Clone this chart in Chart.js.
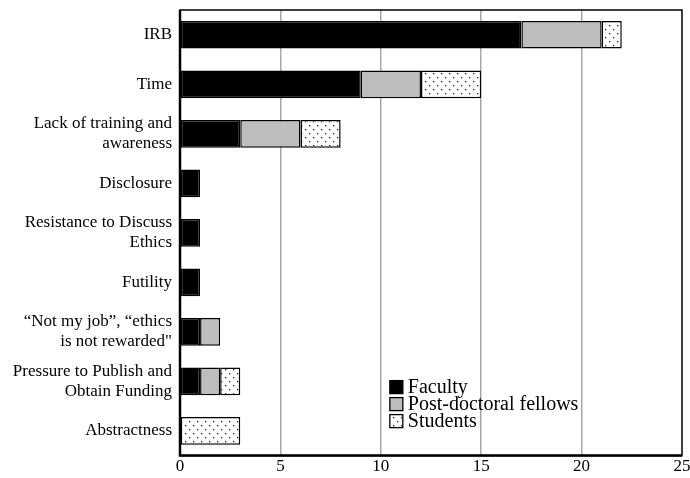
<!DOCTYPE html>
<html>
<head>
<meta charset="utf-8">
<script src="https://cdn.jsdelivr.net/npm/chart.js@4"></script>
<style>
  html, body { margin: 0; padding: 0; background: #fff; }
  #wrap { width: 690px; height: 478px; position: relative; }
</style>
</head>
<body>
<div id="wrap"><canvas id="c"></canvas></div>
<script>
// Categorias (rótulos multilinha) e valores por grupo
const categorias = [
  'IRB',
  'Time',
  ['Lack of training and', 'awareness'],
  'Disclosure',
  ['Resistance to Discuss', 'Ethics'],
  'Futility',
  ['\u201CNot my job\u201D, \u201Cethics', 'is not rewarded"'],
  ['Pressure to Publish and', 'Obtain Funding'],
  'Abstractness',
];
const faculty   = [17, 9, 3, 1, 1, 1, 1, 1, 0];
const postdocs  = [4, 3, 3, 0, 0, 0, 1, 1, 0];
const students  = [1, 3, 2, 0, 0, 0, 0, 1, 3];
const xTicks    = [0, 5, 10, 15, 20, 25];
const nomesSeries = ['Faculty', 'Post-doctoral fellows', 'Students'];

const FONTE = "'Liberation Serif', 'Times New Roman', serif";

// padrão pontilhado para "Students"
function padraoPontos() {
  const p = document.createElement('canvas');
  p.width = 8; p.height = 8;
  const g = p.getContext('2d');
  g.fillStyle = '#fff';
  g.fillRect(0, 0, 8, 8);
  g.fillStyle = '#222';
  g.fillRect(1, 1, 1.3, 1.3);
  g.fillRect(5, 5, 1.3, 1.3);
  return g.createPattern(p, 'repeat');
}
const ctx = document.getElementById('c').getContext('2d');
const pontos = padraoPontos();
const cores = ['#000000', '#bdbdbd', pontos];

const legendaInterna = {
  id: 'legendaInterna',
  afterDraw(chart) {
    const c = chart.ctx;
    const x0 = chart.scales.x.getPixelForValue(10.45);
    let y = chart.chartArea.bottom - 69;
    c.save();
    c.font = `20px ${FONTE}`;
    c.textBaseline = 'middle';
    nomesSeries.forEach((nome, i) => {
      c.fillStyle = cores[i];
      c.fillRect(x0, y - 6, 13, 13);
      c.lineWidth = 1.3;
      c.strokeStyle = '#000';
      c.strokeRect(x0, y - 6, 13, 13);
      c.fillStyle = '#000';
      c.fillText(nome, x0 + 18, y + 1);
      y += 17;
    });
    c.restore();
  },
};

const moldura = {
  id: 'moldura',
  afterDatasetsDraw(chart) {
    const { left, right, top, bottom } = chart.chartArea;
    const c = chart.ctx;
    c.save();
    c.strokeStyle = '#000';
    c.lineWidth = 1.5;
    c.strokeRect(left, top, right - left, bottom - top);
    c.lineWidth = 2.5;
    c.beginPath();
    c.moveTo(left, top); c.lineTo(left, bottom); c.lineTo(right, bottom);
    c.stroke();
    c.restore();
  },
};

new Chart(ctx, {
  type: 'bar',
  data: {
    labels: categorias,
    datasets: [faculty, postdocs, students].map((d, i) => ({
      label: nomesSeries[i],
      data: d,
      backgroundColor: cores[i],
      borderColor: '#000',
      borderWidth: 1.5,
      borderSkipped: false,
      categoryPercentage: 1,
      barPercentage: 0.56,
    })),
  },
  options: {
    indexAxis: 'y',
    responsive: true,
    maintainAspectRatio: false,
    animation: false,
    layout: { padding: { top: 10, right: 8, left: 0, bottom: 0 } },
    plugins: { legend: { display: false }, tooltip: { enabled: false } },
    scales: {
      x: {
        stacked: true,
        min: 0, max: 25,
        afterBuildTicks: (s) => { s.ticks = xTicks.map(v => ({ value: v })); },
        afterFit: (s) => { s.paddingRight = 0; s.paddingLeft = 0; },
        ticks: { color: '#000', font: { family: FONTE, size: 17 }, padding: 1 },
        grid: {
          color: (c) => (c.tick && c.tick.value > 0 && c.tick.value < 25) ? '#a8a8a8' : 'rgba(0,0,0,0)',
          lineWidth: 1.5,
          drawTicks: false,
        },
        border: { display: false },
      },
      y: {
        stacked: true,
        afterFit: (s) => { s.width = 180; s.paddingTop = 0; s.paddingBottom = 0; },
        ticks: { color: '#000', font: { family: FONTE, size: 17, lineHeight: 1.18 }, padding: 8 },
        grid: { display: false, drawTicks: false },
        border: { display: false },
      },
    },
  },
  plugins: [moldura, legendaInterna],
});
</script>
</body>
</html>
